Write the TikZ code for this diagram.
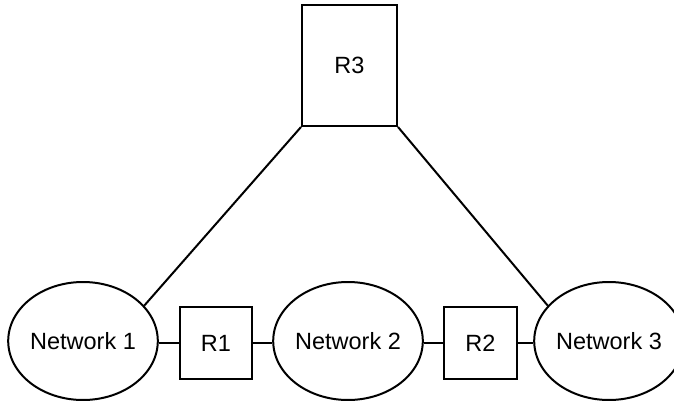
\documentclass[tikz,border=0pt]{standalone}
\usepackage{fontspec}
\setmainfont{Liberation Sans}
\usetikzlibrary{shapes.geometric}
\begin{document}
\begin{tikzpicture}[x=1pt,y=-1pt,
  every node/.style={font=\fontsize{23.5}{28}\selectfont, inner sep=0pt},
  router/.style={draw, line width=2pt, rectangle},
  net/.style={draw, line width=2pt, ellipse, minimum width=144pt, minimum height=118pt},
  link/.style={line width=2pt}]
\useasboundingbox (0,0) rectangle (674,401);
\node[router, minimum width=95pt, minimum height=121pt] (r3) at (349.5,65.5) {R3};
\node[net] (n1) at (83,341) {Network 1};
\node[net] (n2) at (348,341) {Network 2};
\node[net] (n3) at (609,341) {Network 3};
\node[router, minimum width=72pt, minimum height=72pt] (r1) at (216,343) {R1};
\node[router, minimum width=73pt, minimum height=72pt] (r2) at (480.5,343) {R2};
\draw[link] (n1.east |- r1.west) -- (r1.west);
\draw[link] (r1.east) -- (n2.west |- r1.east);
\draw[link] (n2.east |- r2.west) -- (r2.west);
\draw[link] (r2.east) -- (n3.west |- r2.east);
\draw[link] (r3.south west) -- (n1.30);
\draw[link] (r3.south east) -- (n3.150);
\end{tikzpicture}
\end{document}
